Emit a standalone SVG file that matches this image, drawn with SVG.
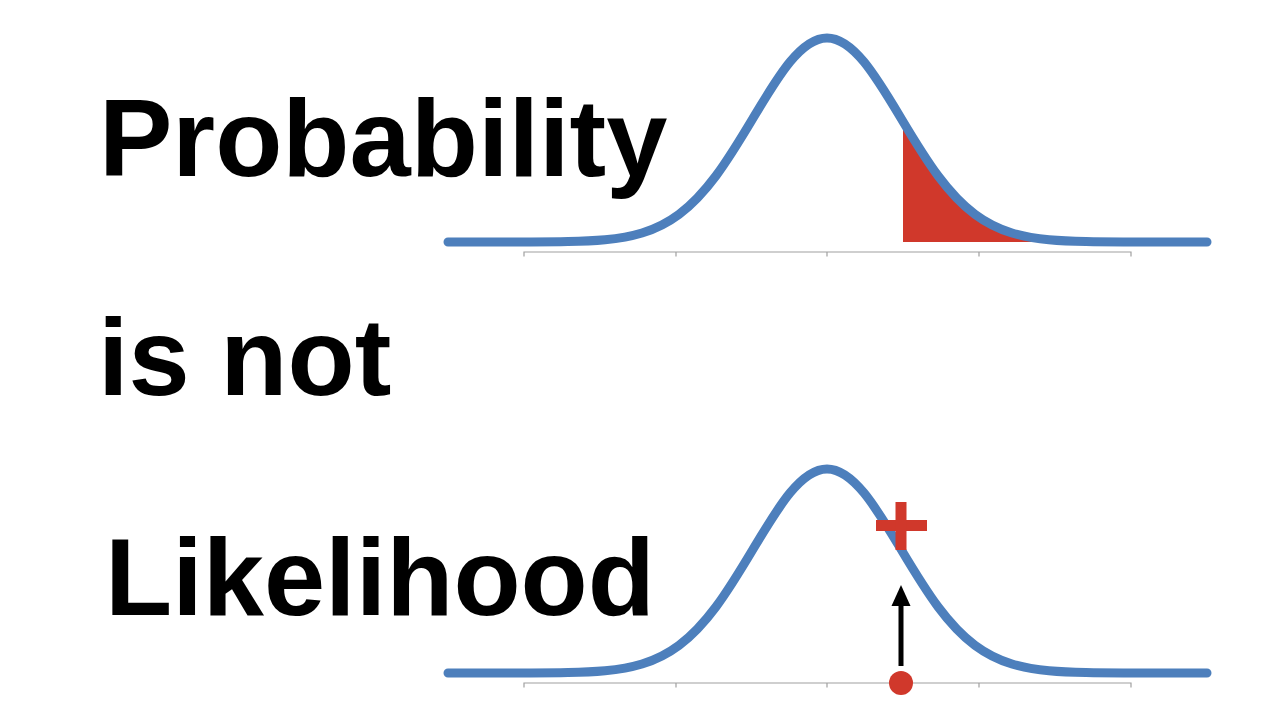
<svg xmlns="http://www.w3.org/2000/svg" xmlns:xlink="http://www.w3.org/1999/xlink" width="1280" height="720" viewBox="0 0 1280 720">
  <style>
    .title { font-family: "Liberation Sans", Arial, Helvetica, sans-serif; font-weight: bold; font-size: 110px; fill: #000; }
    .curve { fill: none; stroke: #4d7fbc; stroke-width: 9; stroke-linecap: round; stroke-linejoin: round; }
    .axis { fill: none; stroke: #a0a0a0; stroke-width: 1.2; }
    .red { fill: #d0382b; }
  </style>
  <defs>
    <path id="gauss" d="M -379 0 L -296 -0.07 C -283.67 -0.12 -271.33 -0.19 -259 -0.45 C -246.67 -0.71 -234.33 -1.14 -222 -2.27 C -209.67 -3.40 -197.33 -5.23 -185 -8.96 C -172.67 -12.69 -160.33 -18.41 -148 -27.61 C -135.67 -36.81 -123.33 -49.67 -111 -66.23 C -98.67 -82.79 -86.33 -103.11 -74 -123.73 C -61.67 -144.35 -49.33 -165.03 -37 -180.03 C -24.67 -195.03 -12.33 -204 0 -204 C 12.33 -204 24.67 -195.03 37 -180.03 C 49.33 -165.03 61.67 -144.35 74 -123.73 C 86.33 -103.11 98.67 -82.79 111 -66.23 C 123.33 -49.67 135.67 -36.81 148 -27.61 C 160.33 -18.41 172.67 -12.69 185 -8.96 C 197.33 -5.23 209.67 -3.40 222 -2.27 C 234.33 -1.14 246.67 -0.71 259 -0.45 C 271.33 -0.19 283.67 -0.12 296 -0.07 L 380 0"/>
    <path id="axis" d="M -303 4.5 L -303 0 L 304 0 L 304 4.5 M -151 0 L -151 4.5 M 0 0 L 0 4.5 M 152 0 L 152 4.5"/>
    <clipPath id="tailClip">
      <rect x="76" y="-220" width="400" height="220"/>
    </clipPath>
  </defs>

  <g id="text-probability">
    <text class="title" x="99" y="176">Probability</text>
  </g>
  <g id="text-isnot">
    <text class="title" x="98" y="395">is not</text>
  </g>
  <g id="text-likelihood">
    <text class="title" x="105" y="615">Likelihood</text>
  </g>

  <g id="probability-plot" transform="translate(827,242)">
    <use xlink:href="#axis" href="#axis" class="axis" transform="translate(0,10)"/>
    <use xlink:href="#gauss" href="#gauss" class="red" clip-path="url(#tailClip)"/>
    <use xlink:href="#gauss" href="#gauss" class="curve"/>
  </g>

  <g id="likelihood-plot" transform="translate(827,673)">
    <use xlink:href="#axis" href="#axis" class="axis" transform="translate(0,10)"/>
    <use xlink:href="#gauss" href="#gauss" class="curve"/>
  </g>

  <g id="connectors">
    <line x1="901" y1="666" x2="901" y2="600" stroke="#000" stroke-width="5"/>
    <polygon points="901,585 891.5,606 910.5,606" fill="#000"/>
  </g>

  <g id="likelihood-plus">
    <rect class="red" x="876" y="520" width="51" height="11"/>
    <rect class="red" x="895.5" y="502" width="11" height="48"/>
  </g>

  <g id="data-point">
    <circle class="red" cx="901" cy="683" r="12"/>
  </g>
</svg>
